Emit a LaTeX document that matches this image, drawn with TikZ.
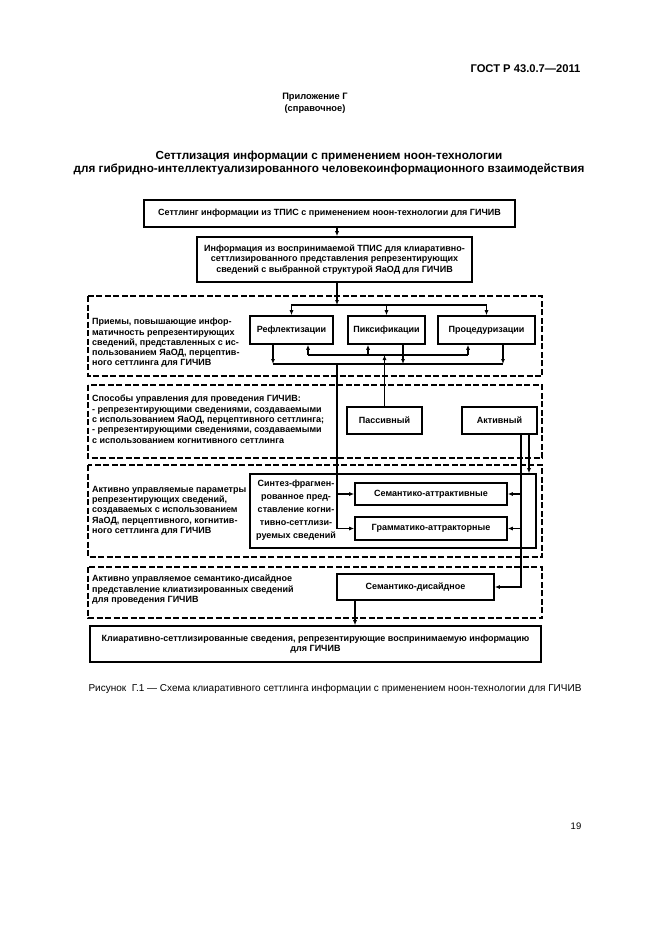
\documentclass[tikz,border=0pt]{standalone}
\usepackage{fontspec}
\setmainfont{Liberation Sans}
\usetikzlibrary{arrows.meta,positioning}
\tikzset{
  >={Latex[length=5pt,width=4pt]},
  every node/.style={font=\bfseries\fontsize{9}{10.3}\selectfont},
  block/.style={draw, line width=1.6pt, align=center, inner sep=1pt},
  zone/.style={draw, line width=1.2pt, dash pattern=on 6pt off 2.5pt},
  zonelabel/.style={anchor=north west, align=left, inner sep=0pt},
  link/.style={line width=1.4pt},
}

\begin{document}
\begin{tikzpicture}[x=1pt,y=-1pt]
  \fill[white] (0,0) rectangle (661,935);
  \useasboundingbox (0,0) rectangle (661,935);

  % page header and title
  \node[anchor=east, font=\bfseries\fontsize{11.2}{13}\selectfont] (gost) at (584,69) {ГОСТ Р 43.0.7—2011};
  \node[align=center, font=\bfseries\fontsize{9.3}{12}\selectfont] (annex) at (315,103) {Приложение Г\\(справочное)};
  \node[align=center, font=\bfseries\fontsize{11.7}{13.5}\selectfont] (title) at (329,163)
    {Сеттлизация информации с применением ноон-технологии\\
     для гибридно-интеллектуализированного человекоинформационного взаимодействия};

  % dashed zones
  \draw[zone] (88,296) rectangle (542,376);
  \draw[zone] (88,385) rectangle (542,458);
  \draw[zone] (88,465) rectangle (542,557);
  \draw[zone] (88,567) rectangle (542,618);

  \node[zonelabel] (zoneA) at (92,318) {Приемы, повышающие инфор-\\матичность репрезентирующих\\сведений, представленных с ис-\\пользованием ЯаОД, перцептив-\\ного сеттлинга для ГИЧИВ};
  \node[zonelabel] (zoneB) at (92,395) {Способы управления для проведения ГИЧИВ:\\- репрезентирующими сведениями, создаваемыми\\с использованием ЯаОД, перцептивного сеттлинга;\\- репрезентирующими сведениями, создаваемыми\\с использованием когнитивного сеттлинга};
  \node[zonelabel] (zoneC) at (92,486) {Активно управляемые параметры\\репрезентирующих сведений,\\создаваемых с использованием\\ЯаОД, перцептивного, когнитив-\\ного сеттлинга для ГИЧИВ};
  \node[zonelabel] (zoneD) at (92,575) {Активно управляемое семантико-дисайдное\\представление клиатизированных сведений\\для проведения ГИЧИВ};

  % blocks
  \node[block, minimum width=371, minimum height=27] (settle) at (329.5,213.5)
    {Сеттлинг информации из ТПИС с применением ноон-технологии для ГИЧИВ};
  \node[block, minimum width=275, minimum height=45] (info) at (334.5,259.5)
    {Информация из воспринимаемой ТПИС для клиаративно-\\сеттлизированного представления репрезентирующих\\сведений с выбранной структурой ЯаОД для ГИЧИВ};
  \node[block, minimum width=83, minimum height=28] (refl) at (291.5,330) {Рефлектизации};
  \node[block, minimum width=77, minimum height=28] (pix) at (386.5,330) {Пиксификации};
  \node[block, minimum width=97, minimum height=28] (proc) at (486.5,330) {Процедуризации};
  \node[block, minimum width=75, minimum height=27] (passive) at (384.5,420.5) {Пассивный};
  \node[block, minimum width=75, minimum height=27] (active) at (499.5,420.5) {Активный};
  \node[block, minimum width=286, minimum height=74] (inner) at (393,511) {};
  \node[align=center, font=\bfseries\fontsize{9}{13}\selectfont] (synth) at (296,510)
    {Синтез-фрагмен-\\рованное пред-\\ставление когни-\\тивно-сеттлизи-\\руемых сведений};
  \node[block, minimum width=152, minimum height=22] (sem) at (431,494) {Семантико-аттрактивные};
  \node[block, minimum width=152, minimum height=23] (gram) at (431,528.5) {Грамматико-аттракторные};
  \node[block, minimum width=157, minimum height=26] (dis) at (415.5,587) {Семантико-дисайдное};
  \node[block, minimum width=451, minimum height=36] (result) at (315.5,644)
    {Клиаративно-сеттлизированные сведения, репрезентирующие воспринимаемую информацию\\для ГИЧИВ};

  % junction points
  \coordinate (fork) at (337,305);
  \coordinate (fbL) at (308,355);
  \coordinate (fbM) at (368,355);
  \coordinate (fbR) at (468,355);
  \coordinate (colL) at (273,364);
  \coordinate (colM) at (403,364);
  \coordinate (colR) at (503,364);
  \coordinate (rail) at (521,587);
  \coordinate (tap) at (529,440);
  \coordinate (drop) at (355,610);

  % connectors
  \draw[link,->] (settle.south -| fork) -- (info.north -| fork);
  \draw[link,->] (info.south -| fork) -- (fork);
  \draw[link,->] (fork) -| (refl);
  \draw[link,->] (fork) -| (pix);
  \draw[link,->] (fork) -| (proc);

  \draw[link] (fbL) -- (fbR);
  \draw[link,->] (fbL) -- (fbL |- refl.south);
  \draw[link,->] (fbM) -- (fbM |- pix.south);
  \draw[link,->] (fbR) -- (fbR |- proc.south);
  \draw[link,->] (passive.north) -- (passive.north |- fbL);

  \draw[link] (colL) -- (colR);
  \draw[link,->] (colL |- refl.south) -- (colL);
  \draw[link,->] (colM |- pix.south) -- (colM);
  \draw[link,->] (colR |- proc.south) -- (colR);

  \draw[link] (colL -| fork) -- (fork |- gram);
  \draw[link,->] (fork |- sem) -- (sem.west);
  \draw[link,->] (fork |- gram) -- (gram.west);

  \draw[link,->] (active.south -| rail) -- (rail) -- (dis.east);
  \draw[link,->] (rail |- sem) -- (sem.east);
  \draw[link,->] (rail |- gram) -- (gram.east);
  \draw[link,->] (active.south -| tap) -- (inner.north -| tap);

  \draw[link,->] (dis.south -| drop) -- (result.north -| drop);

  % caption and page number
  \node[font=\fontsize{10}{12}\selectfont] (caption) at (335,689)
    {Рисунок \ Г.1 — Схема клиаративного сеттлинга информации с применением ноон-технологии для ГИЧИВ};
  \node[font=\fontsize{9.5}{11}\selectfont] (page) at (576,826) {19};
\end{tikzpicture}
\end{document}
